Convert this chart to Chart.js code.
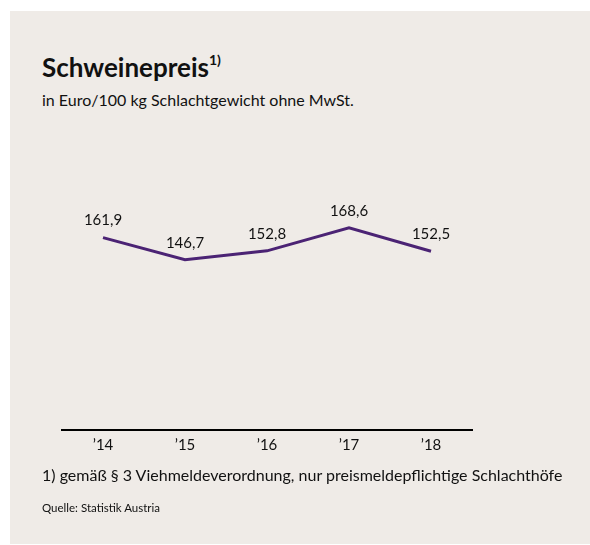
<!DOCTYPE html>
<html lang="de">
<head>
<meta charset="utf-8">
<title>Schweinepreis</title>
<script src="https://cdn.jsdelivr.net/npm/chart.js@4/dist/chart.umd.min.js"></script>
<style>
  html, body { margin: 0; padding: 0; background: #fff; }
  body { width: 590px; height: 545px; position: relative; overflow: hidden; font-family: Lato, "Open Sans", sans-serif; color: #111; }
  .panel { position: absolute; left: 10px; top: 11px; width: 580px; height: 533px; background: #efebe7; }
  .txt { position: absolute; white-space: nowrap; }
  #title { left: 42px; top: 45px; font-size: 26px; font-weight: 700; line-height: 34px; }
  #title sup { font-size: 14px; position: relative; top: -2px; }
  #subtitle { left: 42px; top: 90px; font-size: 16px; line-height: 20px; }
  #note { left: 42px; top: 465px; font-size: 16px; line-height: 20px; }
  #source { left: 42px; top: 501px; font-size: 11.5px; line-height: 14px; }
  #wrap { position: absolute; left: 0; top: 0; width: 590px; height: 545px; }
</style>
</head>
<body>
<div class="panel"></div>
<div class="txt" id="title">Schweinepreis<sup>1)</sup></div>
<div class="txt" id="subtitle">in Euro/100 kg Schlachtgewicht ohne MwSt.</div>
<div id="wrap"><canvas id="chart"></canvas></div>
<div class="txt" id="note">1) gemäß § 3 Viehmeldeverordnung, nur preismeldepflichtige Schlachthöfe</div>
<div class="txt" id="source">Quelle: Statistik Austria</div>
<script>
const years = ['\u201914', '\u201915', '\u201916', '\u201917', '\u201918'];
const prices = [161.9, 146.7, 152.8, 168.6, 152.5];
const priceLabels = ['161,9', '146,7', '152,8', '168,6', '152,5'];

// draws the value above each point
const valueLabels = {
    id: 'valueLabels',
    afterDatasetsDraw(chart) {
        const ctx = chart.ctx;
        const meta = chart.getDatasetMeta(0);
        ctx.save();
        ctx.font = '15px Lato, "Open Sans", sans-serif';
        ctx.fillStyle = '#111';
        ctx.textAlign = 'center';
        ctx.textBaseline = 'middle';
        meta.data.forEach((pt, i) => {
            ctx.fillText(priceLabels[i], pt.x, pt.y - 17);
        });
        ctx.restore();
    }
};

const ctx = document.getElementById('chart').getContext('2d');
new Chart(ctx, {
    type: 'line',
    data: {
        labels: years,
        datasets: [{
            data: prices,
            borderColor: '#4b2374',
            borderWidth: 3,
            pointRadius: 0,
            tension: 0,
            fill: false
        }]
    },
    options: {
        responsive: true,
        maintainAspectRatio: false,
        animation: false,
        layout: { padding: { left: 62, right: 118, top: 182, bottom: 85 } },
        plugins: {
            legend: { display: false },
            tooltip: { enabled: false }
        },
        scales: {
            x: {
                offset: true,
                grid: { display: false },
                border: { display: true, color: '#000', width: 2 },
                ticks: { color: '#111', padding: -2, font: { family: 'Lato', size: 15 } },
                afterFit(scale) { scale.height = 30; }
            },
            y: {
                display: false,
                min: 30,
                max: 200
            }
        }
    },
    plugins: [valueLabels]
});
</script>
</body>
</html>
